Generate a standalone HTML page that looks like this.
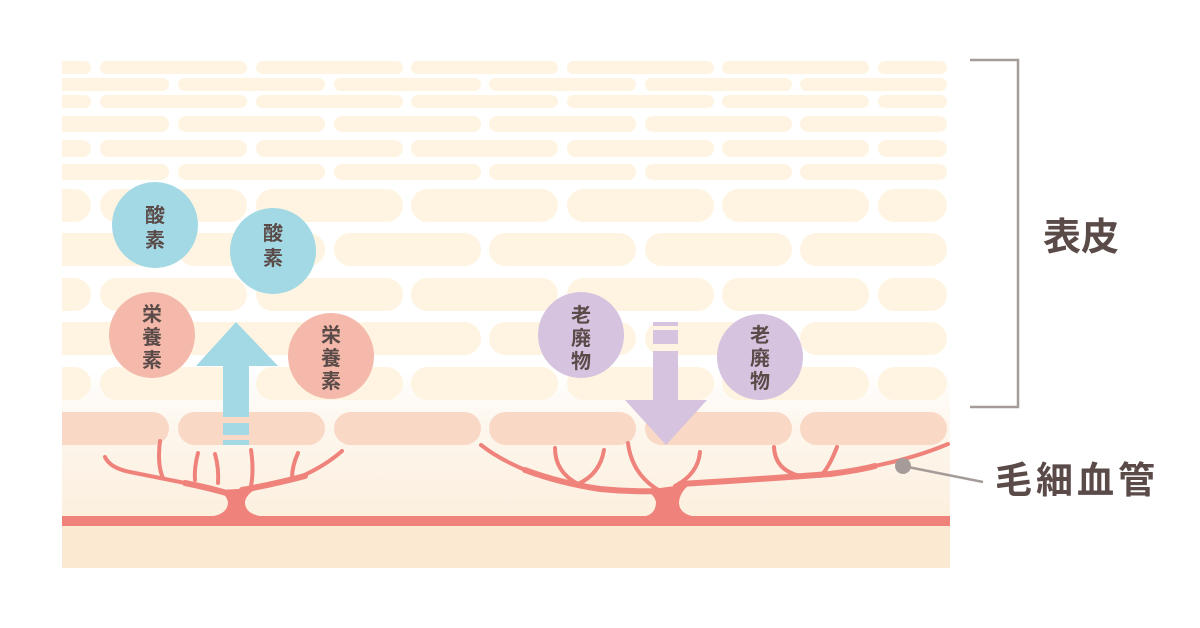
<!DOCTYPE html>
<html><head><meta charset="utf-8"><style>
html,body{margin:0;padding:0;background:#fff;width:1200px;height:628px;overflow:hidden}
svg{display:block}
text{font-family:"Liberation Sans","Noto Sans CJK JP",sans-serif;fill:#5a4a48;font-weight:bold}
</style></head><body>
<svg width="1200" height="628" viewBox="0 0 1200 628" xmlns="http://www.w3.org/2000/svg">
<defs>
<linearGradient id="bg" x1="0" y1="0" x2="0" y2="1">
<stop offset="0" stop-color="#fff"/>
<stop offset="0.62" stop-color="#fff"/>
<stop offset="0.72" stop-color="#fdf7ee"/>
<stop offset="1" stop-color="#fcebd6"/>
</linearGradient>
<clipPath id="cl"><rect x="62" y="50" width="888" height="520"/></clipPath>
<g id="oT"><rect x="30" y="0" width="61" height="13" rx="6.5"/><rect x="100" y="0" width="147" height="13" rx="6.5"/><rect x="256" y="0" width="147" height="13" rx="6.5"/><rect x="411" y="0" width="147" height="13" rx="6.5"/><rect x="567" y="0" width="147" height="13" rx="6.5"/><rect x="722" y="0" width="147" height="13" rx="6.5"/><rect x="878" y="0" width="69" height="13" rx="6.5"/></g>
<g id="eT"><rect x="30" y="0" width="139" height="13" rx="6.5"/><rect x="178" y="0" width="147" height="13" rx="6.5"/><rect x="334" y="0" width="147" height="13" rx="6.5"/><rect x="489" y="0" width="147" height="13" rx="6.5"/><rect x="645" y="0" width="147" height="13" rx="6.5"/><rect x="800" y="0" width="147" height="13" rx="6.5"/></g>
<g id="oM"><rect x="30" y="0" width="61" height="17" rx="8.5"/><rect x="100" y="0" width="147" height="17" rx="8.5"/><rect x="256" y="0" width="147" height="17" rx="8.5"/><rect x="411" y="0" width="147" height="17" rx="8.5"/><rect x="567" y="0" width="147" height="17" rx="8.5"/><rect x="722" y="0" width="147" height="17" rx="8.5"/><rect x="878" y="0" width="69" height="17" rx="8.5"/></g>
<g id="eM"><rect x="30" y="0" width="139" height="16" rx="8"/><rect x="178" y="0" width="147" height="16" rx="8"/><rect x="334" y="0" width="147" height="16" rx="8"/><rect x="489" y="0" width="147" height="16" rx="8"/><rect x="645" y="0" width="147" height="16" rx="8"/><rect x="800" y="0" width="147" height="16" rx="8"/></g>
<g id="oB"><rect x="30" y="0" width="61" height="33" rx="16.5"/><rect x="100" y="0" width="147" height="33" rx="16.5"/><rect x="256" y="0" width="147" height="33" rx="16.5"/><rect x="411" y="0" width="147" height="33" rx="16.5"/><rect x="567" y="0" width="147" height="33" rx="16.5"/><rect x="722" y="0" width="147" height="33" rx="16.5"/><rect x="878" y="0" width="69" height="33" rx="16.5"/></g>
<g id="eB"><rect x="30" y="0" width="139" height="33" rx="16.5"/><rect x="178" y="0" width="147" height="33" rx="16.5"/><rect x="334" y="0" width="147" height="33" rx="16.5"/><rect x="489" y="0" width="147" height="33" rx="16.5"/><rect x="645" y="0" width="147" height="33" rx="16.5"/><rect x="800" y="0" width="147" height="33" rx="16.5"/></g>
</defs>
<rect x="62" y="50" width="888" height="518" fill="url(#bg)"/>
<rect x="62" y="526" width="888" height="42" fill="#fbe9d2"/>
<g clip-path="url(#cl)">
<g fill="#fff4e1">
<use href="#oT" y="61"/><use href="#eT" y="78"/><use href="#oT" y="95"/>
<use href="#eM" y="116"/><use href="#oM" y="140"/><use href="#eM" y="164"/>
<use href="#oB" y="189"/><use href="#eB" y="233"/><use href="#oB" y="278"/>
<use href="#eB" y="322"/><use href="#oB" y="367"/>
</g>
<g fill="#f9d9c6"><use href="#eB" y="412"/></g>
</g>
<!-- capillaries -->
<rect x="62" y="516" width="888" height="10" fill="#ef837b"/>
<g fill="none" stroke="#ef837b" stroke-linecap="round">
<g stroke-width="4">
<path d="M160,441 Q157,465 163,478"/>
<path d="M198,453 Q194,468 195,480"/>
<path d="M215,454 Q219,468 218,483"/>
<path d="M251,450 Q254,470 251,486"/>
<path d="M298,453 Q292,466 292,478"/>
<path d="M555,448 Q555,472 578,484"/>
<path d="M604,450 Q600,474 578,484"/>
<path d="M628,443 Q632,475 660,491"/>
<path d="M700,452 Q698,474 675,486"/>
<path d="M774,447 Q775,470 800,476"/>
<path d="M837,447 Q828,470 820,476"/>
<path d="M105,457 Q110,468 130,472 Q160,478 190,484"/>
<path d="M300,477 Q325,466 342,451"/>
<path d="M481,445 Q500,460 530,472"/>
<path d="M870,467 Q915,458 948,444"/>
</g>
<g stroke-width="6">
<path d="M185,483 Q210,488 230,494"/>
<path d="M242,490 Q275,484 305,476"/>
<path d="M525,470 Q560,483 600,489 Q630,492 660,491"/>
<path d="M680,484 Q750,480 830,474 Q860,470 875,466"/>
</g>
</g>
<path d="M205,517 Q228,516 228,502 Q226,494 218,490 L258,488 Q246,494 245,502 Q245,516 268,517 Z" fill="#ef837b"/>
<path d="M640,517 Q656,516 656,502 Q654,494 645,490 L690,484 Q680,492 679,502 Q679,516 700,517 Z" fill="#ef837b"/>
<!-- arrows -->
<g fill="#a3d9e5">
<polygon points="236,322 278,366 249,366 249,417 223,417 223,366 196,366"/>
<rect x="223" y="423" width="26" height="12"/><rect x="223" y="440" width="26" height="5"/>
</g>
<g fill="#d6c3e0">
<rect x="653" y="322" width="25" height="4"/><rect x="653" y="330" width="25" height="14"/>
<polygon points="653,351 678,351 678,400 707,400 666,445 625,400 653,400"/>
</g>
<!-- circles -->
<circle cx="155" cy="225" r="43" fill="#a3d9e5"/>
<circle cx="273" cy="251" r="43" fill="#a3d9e5"/>
<circle cx="152" cy="335" r="43" fill="#f4b9ab"/>
<circle cx="331" cy="356" r="43" fill="#f4b9ab"/>
<circle cx="581" cy="335" r="43" fill="#d6c3e0"/>
<circle cx="760" cy="357" r="43" fill="#d6c3e0"/>
<g font-size="20" text-anchor="middle">
<text x="155" y="222">酸</text><text x="155" y="247">素</text>
<text x="273" y="240">酸</text><text x="273" y="265">素</text>
<text x="152" y="321">栄</text><text x="152" y="344">養</text><text x="152" y="367">素</text>
<text x="331" y="342">栄</text><text x="331" y="365">養</text><text x="331" y="388">素</text>
<text x="581" y="322">老</text><text x="581" y="345">廃</text><text x="581" y="368">物</text>
<text x="760" y="342">老</text><text x="760" y="365">廃</text><text x="760" y="388">物</text>
</g>
<!-- bracket -->
<polyline points="970,60 1018,60 1018,407 970,407" fill="none" stroke="#a59c9a" stroke-width="2.5"/>
<text x="1043" y="250" font-size="38">表皮</text>
<line x1="903" y1="466" x2="983" y2="482" stroke="#a59c9a" stroke-width="2.5"/>
<circle cx="903" cy="466" r="8" fill="#a59c9a"/>
<text x="995" y="493" font-size="37" letter-spacing="4">毛細血管</text>
</svg>
</body></html>
